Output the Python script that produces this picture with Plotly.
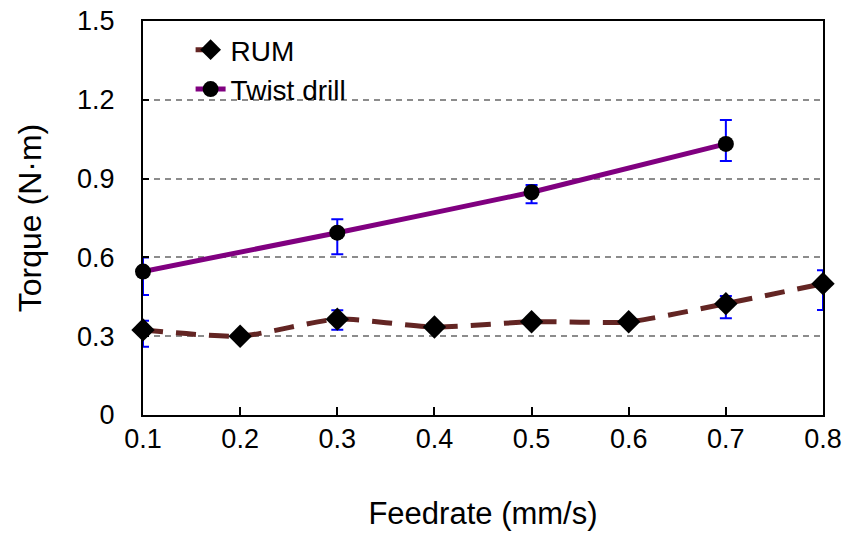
import plotly.graph_objects as go

feed_rum = [0.1, 0.2, 0.3, 0.4, 0.5, 0.6, 0.7, 0.8]
torque_rum = [0.324, 0.300, 0.365, 0.335, 0.355, 0.355, 0.424, 0.500]
err_rum_plus = [0.035, 0.008, 0.034, 0.012, 0.008, 0.008, 0.029, 0.051]
err_rum_minus = [0.064, 0.008, 0.040, 0.012, 0.008, 0.008, 0.056, 0.100]

feed_twist = [0.1, 0.3, 0.5, 0.7]
torque_twist = [0.546, 0.694, 0.848, 1.032]
err_twist_plus = [0.054, 0.051, 0.028, 0.091]
err_twist_minus = [0.089, 0.082, 0.042, 0.065]

x_ticks = [0.1, 0.2, 0.3, 0.4, 0.5, 0.6, 0.7, 0.8]
y_ticks = [0, 0.3, 0.6, 0.9, 1.2, 1.5]
y_tick_text = ["0", "0.3", "0.6", "0.9", "1.2", "1.5"]

FONT = "Liberation Sans, Arial, sans-serif"

fig = go.Figure()
fig.add_trace(go.Scatter(
    x=feed_rum, y=torque_rum, name="RUM", mode="lines+markers",
    line=dict(color="#632523", width=5, dash="20px,13px", shape="spline", smoothing=0.6),
    marker=dict(symbol="diamond", size=18, color="black"),
    error_y=dict(type="data", symmetric=False, array=err_rum_plus, arrayminus=err_rum_minus,
                 color="#0000FF", thickness=2, width=6),
    cliponaxis=False,
))
fig.add_trace(go.Scatter(
    x=feed_twist, y=torque_twist, name="Twist drill", mode="lines+markers",
    line=dict(color="#800080", width=5, shape="spline", smoothing=0.3),
    marker=dict(symbol="circle", size=16, color="black"),
    error_y=dict(type="data", symmetric=False, array=err_twist_plus, arrayminus=err_twist_minus,
                 color="#0000FF", thickness=2, width=6),
    cliponaxis=False,
))

fig.update_layout(
    width=851, height=542,
    margin=dict(l=143, r=28, t=21, b=127),
    paper_bgcolor="white", plot_bgcolor="white",
    font=dict(family=FONT, size=27, color="black"),
    showlegend=True,
    legend=dict(x=0.07, y=0.99, xanchor="left", yanchor="top",
                bgcolor="rgba(0,0,0,0)", font=dict(family=FONT, size=28), tracegroupgap=0),
    xaxis=dict(range=[0.1, 0.8], tickvals=x_ticks, ticktext=[f"{v:.1f}" for v in x_ticks],
               ticks="inside", ticklen=8, tickwidth=1.5, tickcolor="black",
               showline=True, linecolor="black", linewidth=2, mirror=True,
               showgrid=False, zeroline=False, ticklabelstandoff=-1, automargin=False,
               tickfont=dict(family=FONT, size=27),
               title=dict(text="Feedrate (mm/s)", standoff=49, font=dict(family=FONT, size=31))),
    yaxis=dict(range=[0, 1.5], tickvals=y_ticks, ticktext=y_tick_text,
               ticks="inside", ticklen=6, tickwidth=1.5, tickcolor="black",
               showline=True, linecolor="black", linewidth=2, mirror=True,
               showgrid=True, gridcolor="#8C8C8C", gridwidth=1.5, griddash="6px,5px",
               zeroline=False, ticklabelstandoff=21, automargin=False,
               tickfont=dict(family=FONT, size=27),
               title=dict(text="Torque (N·m)", standoff=26, font=dict(family=FONT, size=32))),
)

fig.write_html("out.html", config={"displayModeBar": False},
               post_script="document.body.style.margin='0';document.body.style.overflow='hidden';")
